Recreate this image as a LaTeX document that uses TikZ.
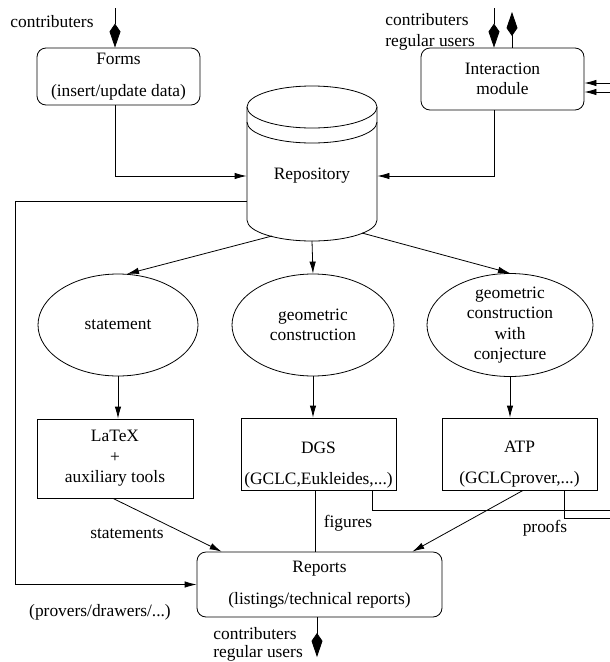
\documentclass[tikz,border=0pt]{standalone}
\usepackage{fontspec}
\setmainfont{Liberation Serif}
\usetikzlibrary{arrows.meta,shapes.geometric,calc}
\begin{document}
\begin{tikzpicture}[x=1pt,y=-1pt, line width=0.8pt,
  font=\rmfamily\fontsize{17.4}{20.5}\selectfont,
  arr/.style={-{Latex[length=12pt,width=6.5pt]}},
  kite/.style={-{Kite[length=24pt,width=11pt,inset=8pt]}},
  rbox/.style={draw, rounded corners=9pt, align=center, inner sep=0pt},
  sbox/.style={draw, align=center, inner sep=0pt},
  oval/.style={draw, ellipse, inner sep=0pt},
  txt/.style={inner sep=0pt, align=center},
  lbl/.style={inner sep=0pt, align=left}]
\useasboundingbox (0,0) rectangle (610,662);

% boxes
\node[rbox, minimum width=163pt, minimum height=57pt] (forms) at (118.5,76.5) {Forms\\[11pt](insert/update data)};
\node[rbox, minimum width=163pt, minimum height=62pt] (inter) at (502.5,79) {Interaction\\module};

% repository cylinder
\draw (312,107) ellipse [x radius=65, y radius=21];
\draw (247,122) arc[start angle=180, end angle=0, x radius=65, y radius=21];
\draw (247,107) -- (247,220) arc[start angle=180, end angle=0, x radius=65, y radius=21] -- (377,107);
\node[txt, minimum width=130pt, minimum height=20pt] (repo) at (312,176) {Repository};
\coordinate (rb1) at (272,236);
\coordinate (rb2) at (312,241);
\coordinate (rb3) at (362,233);
\coordinate (rl) at (247,201);

% ellipses
\node[oval, minimum width=160pt, minimum height=102pt] (stmt) at (118,325) {};
\node[txt] (stmtt) at (stmt) {statement};
\node[oval, minimum width=162pt, minimum height=102pt] (geo) at (313,325) {};
\node[txt] (geot) at (geo) {geometric\\construction};
\node[oval, minimum width=166pt, minimum height=103pt] (conj) at (510,325) {};
\node[txt] (conjt) at (conj) {geometric\\construction\\with\\conjecture};

% tool boxes
\node[sbox, minimum width=156pt, minimum height=79pt] (latex) at (115,458.5) {LaTeX\\+\\auxiliary tools};
\node[sbox, minimum width=155pt, minimum height=72pt] (dgs) at (318.5,454) {};
\node[txt] (dgst) at ($(dgs.center)+(0,11)$) {DGS\\[10pt](GCLC,Eukleides,...)};
\node[sbox, minimum width=155pt, minimum height=72pt] (atp) at (519.5,454) {};
\node[txt] (atpt) at ($(atp.center)+(0,10)$) {ATP\\[10pt](GCLCprover,...)};

% reports
\node[rbox, minimum width=245pt, minimum height=65pt] (rep) at (319.5,584.5) {Reports\\[11pt](listings/technical reports)};

% labels
\node[lbl, anchor=west] (lc1) at (10,22) {contributers};
\node[lbl, anchor=west] (lc2) at (385,32) {contributers\\regular users};
\node[lbl, anchor=west] (lc3) at (213,644.5) {contributers\\[-3pt]regular users};
\node[txt] (lst) at (127,534) {statements};
\node[txt] (lfig) at (348,523) {figures};
\node[txt] (lpro) at (545,528) {proofs};
\node[txt] (lpd) at (100,612) {(provers/drawers/...)};

% user arrows
\coordinate (cin1) at (115,8);
\coordinate (cin2) at (494,8);
\coordinate (cout2) at (512,12);
\coordinate (bout) at (317,657);
\draw[kite] (cin1) -- (cin1 |- forms.north);
\draw[kite] (cin2) -- (cin2 |- inter.north);
\draw[kite] (cout2 |- inter.north) -- (cout2);
\draw[kite] (bout |- rep.south) -- (bout);

% into repository
\draw[arr] (cin1 |- forms.south) |- (repo.west);
\draw[arr] (cin2 |- inter.south) |- (repo.east);

% repository to ellipses
\draw[arr] (rb1) -- (stmt.80);
\draw[arr] (rb2) -- (geo.north);
\draw[arr] (rb3) -- (conj.north);

% ellipses to tools
\draw[arr] (stmt.south) -- (stmt.south |- latex.north);
\draw[arr] (geo.south) -- (geo.south |- dgs.north);
\draw[arr] (conj.south) -- (conj.south |- atp.north);

% left loop
\coordinate (lcorner) at (15,201);
\draw[arr] (rl) -- (lcorner) |- (rep.west);

% tools to reports
\draw[arr] ($(latex.south)+(-2,0)$) -- ($(rep.north west)+(25,0)$);
\draw (dgs.south) ++(-3.5,0) coordinate (f1) -- (f1 |- rep.north);
\draw[arr] ($(atp.south)+(3.5,0)$) -- ($(rep.north east)+(-30,0)$);

% feedback lines to the right edge
\coordinate (edge1) at (610,510);
\coordinate (edge2) at (610,518);
\coordinate (edge3) at (610,83);
\coordinate (edge4) at (610,92);
\draw (dgs.south) ++(53.5,0) coordinate (d2) |- (edge1);
\draw (atp.south) ++(44.5,0) coordinate (a2) |- (edge2);
\draw[arr] (edge3) -- (edge3 -| inter.east);
\draw[arr] (edge4) -- (edge4 -| inter.east);
\end{tikzpicture}
\end{document}
